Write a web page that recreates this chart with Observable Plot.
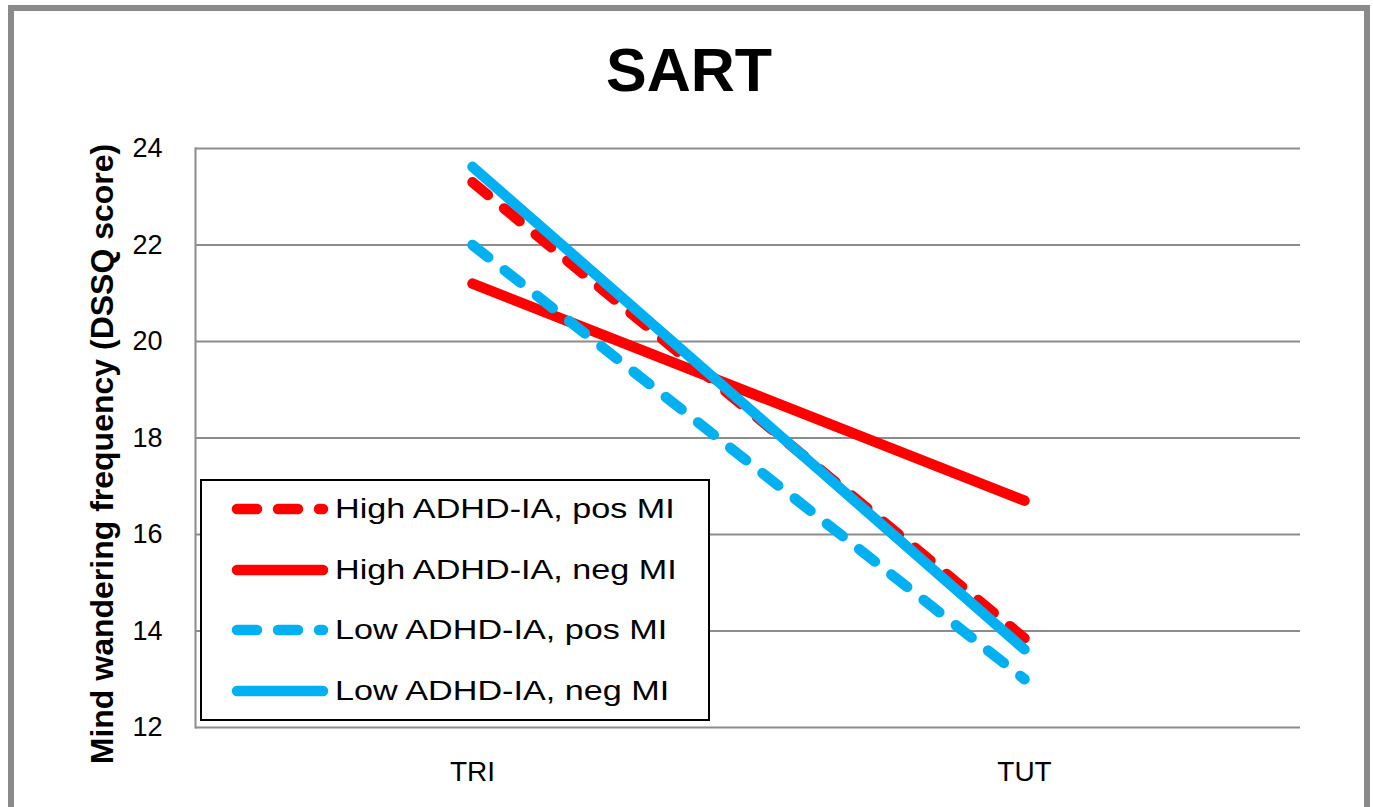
<!DOCTYPE html>
<html>
<head>
<meta charset="utf-8">
<script src="https://cdn.jsdelivr.net/npm/d3@7"></script>
<script src="https://cdn.jsdelivr.net/npm/@observablehq/plot@0.6"></script>
<style>
html, body { margin: 0; padding: 0; background: #fff; overflow: hidden; }
#wrap { position: relative; width: 1373px; height: 807px; overflow: hidden; font-family: "Liberation Sans", Arial, sans-serif; }
#chart { position: absolute; left: 0; top: 0; }
#border { position: absolute; left: 8px; top: 5px; width: 1362px; height: 900px; border: 6px solid #8a8a8a; box-sizing: border-box; }
#title { position: absolute; left: 0; top: 40px; width: 1378px; text-align: center; font-size: 61px; font-weight: bold; line-height: 61px; color: #000; }
#legend { position: absolute; left: 200px; top: 479px; width: 510px; height: 242px; border: 2px solid #000; box-sizing: border-box; background: #fff; }
.row { position: absolute; left: 0; height: 40px; width: 500px; }
.row svg { position: absolute; left: 0; top: 0; }
.row span { position: absolute; left: 133px; top: 0; line-height: 40px; font-size: 28px; white-space: nowrap; transform: scaleX(1.22); transform-origin: left center; color: #000; }
</style>
</head>
<body>
<div id="wrap">
  <div id="chart"></div>
  <div id="border"></div>
  <div id="title"></div>
  <div id="legend"></div>
</div>
<script>
const chartTitle = "SART";
const yTitle = "Mind wandering frequency (DSSQ score)";
const categories = ["TRI", "TUT"];
const yTicks = [12, 14, 16, 18, 20, 22, 24];
const seriesNames = ["High ADHD-IA, pos MI", "High ADHD-IA, neg MI", "Low ADHD-IA, pos MI", "Low ADHD-IA, neg MI"];
const seriesColors = ["#FF0000", "#FF0000", "#00B0F0", "#00B0F0"];
const seriesDashed = [true, false, true, false];
const highPosMI = [23.3, 13.85];
const highNegMI = [21.2, 16.7];
const lowPosMI = [22.0, 13.0];
const lowNegMI = [23.62, 13.62];
const seriesValues = [highPosMI, highNegMI, lowPosMI, lowNegMI];

const dash = "20,21";
const data = seriesNames.map((name, i) => categories.map((c, j) => ({series: name, cat: c, value: seriesValues[i][j]})));

const lineMarks = data.map((d, i) => Plot.line(d, {
  x: "cat", y: "value",
  stroke: seriesColors[i],
  strokeWidth: 10.5,
  strokeLinecap: "round",
  strokeLinejoin: "round",
  strokeDasharray: seriesDashed[i] ? dash : null
}));

const plot = Plot.plot({
  width: 1373,
  height: 807,
  marginTop: 148,
  marginBottom: 80,
  marginLeft: 195,
  marginRight: 73,
  style: {background: "none", fontFamily: "'Liberation Sans', Arial, sans-serif", fontSize: "27px", color: "#000"},
  x: {type: "point", domain: categories, padding: 0.5},
  y: {domain: [12, 24]},
  marks: [
    Plot.gridY(yTicks, {stroke: "#8c8c8c", strokeOpacity: 1, strokeWidth: 2}),
    Plot.frame({anchor: "left", stroke: "#8c8c8c", strokeWidth: 2}),
    Plot.axisY(yTicks, {tickSize: 0, tickPadding: 33, label: null, fontSize: 27}),
    Plot.axisX({tickSize: 0, tickPadding: 34, label: null, fontSize: 28}),
    ...lineMarks,
    Plot.text([yTitle], {
      text: d => d, frameAnchor: "left", rotate: -90,
      textAnchor: "middle", lineAnchor: "bottom",
      dx: -83, dy: 16, fontSize: 32, fontWeight: "bold", fill: "#000"
    })
  ]
});
document.getElementById("chart").appendChild(plot);
document.getElementById("title").textContent = chartTitle;

const legend = d3.select("#legend");
seriesNames.forEach((name, i) => {
  const row = legend.append("div").attr("class", "row").style("top", (8 + i * 60.5) + "px");
  const svg = row.append("svg").attr("width", 130).attr("height", 40);
  svg.append("line")
    .attr("x1", 35).attr("x2", 121).attr("y1", 20).attr("y2", 20)
    .attr("stroke", seriesColors[i]).attr("stroke-width", 10.5)
    .attr("stroke-linecap", "round")
    .attr("stroke-dasharray", seriesDashed[i] ? dash : null);
  row.append("span").text(name);
});
</script>
</body>
</html>
